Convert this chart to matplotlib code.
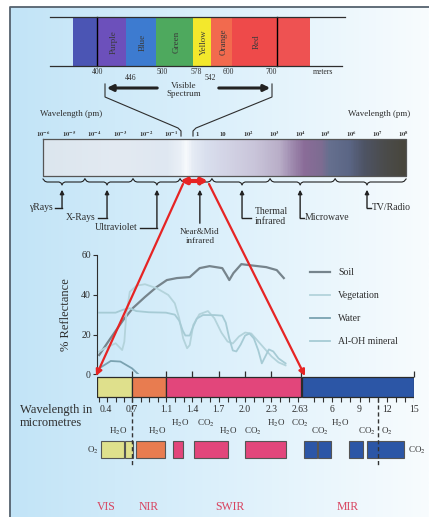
import numpy as np
import matplotlib
matplotlib.use("Agg")
from matplotlib import pyplot as plt
from matplotlib.colors import LinearSegmentedColormap

plt.rcParams["font.family"] = ["Liberation Serif", "DejaVu Serif"]
plt.rcParams["mathtext.fontset"] = "stix"

# ---- visible strip (nm)
STRIP_EDGES_NM = [380, 400, 446, 500, 578, 592, 620, 700, 750]
STRIP_NAMES = ["", "Purple", "Blue", "Green", "Yellow", "Orange", "Red", ""]
STRIP_COLORS = ["#4b55b4", "#6c50bb", "#3d7bd0", "#4ea95e", "#f3e82c", "#f26a4e", "#ee4a4a", "#ee5252"]
VIS_TICK_TEXT = ["400", "446", "500", "578", "542", "600", "700", "meters"]

# ---- EM spectrum bar (log10 of wavelength in pm)
EM_EXPONENTS = list(range(-6, 9))
EM_BANDS = ["γRays", "X-Rays", "Ultraviolet", "Near&Mid\ninfrared", "Thermal\ninfrared", "Microwave", "TV/Radio"]
EM_BAND_AT = [-5.26, -3.51, -1.57, 0.1, 1.74, 4.0, 6.6]
EM_BRACE_EDGES = [-6.0, -4.37, -2.5, -0.67, 0.57, 2.83, 5.36, 8.12]

# ---- reflectance curves (micrometres, %)
SOIL_UM = [0.40, 0.506, 0.62, 0.71, 0.853, 0.99, 1.11, 1.224, 1.37, 1.483, 1.596, 1.74, 1.788,
           1.82, 1.867, 1.957, 2.047, 2.24, 2.36, 2.44]
SOIL_PCT = [9.7, 18.3, 27.3, 33.3, 38.9, 43.9, 47.4, 48.4, 48.9, 53.4, 54.4, 53.4, 49.9,
            47.4, 50.9, 55.4, 54.9, 53.9, 52.4, 48.4]
VEG_UM = [0.40, 0.447, 0.55, 0.61, 0.63, 0.647, 0.68, 0.755, 0.853, 0.99, 1.126, 1.20, 1.25,
          1.295, 1.34, 1.37, 1.41, 1.48, 1.577, 1.65, 1.73, 1.80, 1.86, 1.93, 2.0, 2.07, 2.14,
          2.22, 2.30, 2.38, 2.46]
VEG_PCT = [11.4, 13, 15.6, 12.2, 16.4, 29.8, 41.5, 44.6, 45.3, 43.3, 39.9, 35.7, 28.2,
           18.1, 13.1, 14.7, 24.8, 30.2, 31.8, 28.2, 21, 16.5, 15.5, 19, 21, 20.5, 17,
           13, 9, 6, 4.5]
WATER_UM = [0.40, 0.506, 0.594, 0.70, 0.775]
WATER_PCT = [3, 6.7, 6.4, 3, 0]
ALOH_UM = [0.40, 0.55, 0.62, 0.68, 0.75, 0.9, 1.1, 1.2, 1.25, 1.29, 1.32, 1.37, 1.40, 1.45,
           1.52, 1.65, 1.74, 1.78, 1.82, 1.86, 1.9, 1.95, 2.0, 2.05, 2.1, 2.15, 2.19, 2.23,
           2.27, 2.32, 2.38, 2.46]
ALOH_PCT = [31, 31, 32.5, 33.2, 31.8, 31.2, 31, 30, 27, 22, 19.5, 19.5, 23, 28,
            29.8, 29.8, 29.5, 26, 18, 12, 11.5, 15, 19.5, 20.5, 18, 12, 5.5, 9,
            12.5, 11.5, 8, 5.5]

# ---- band bar, windows, gases (micrometres)
BAND_NAMES = ["VIS", "NIR", "SWIR", "MIR"]
BAND_START = [0.38, 0.7, 1.1, 2.75]
BAND_END = [0.7, 1.1, 2.63, 15.0]
BAND_COLORS = ["#dfe08c", "#e87c50", "#e2467b", "#2c56a6"]
AXIS_LABELS = ["0.4", "0.7", "1.1", "1.4", "1.7", "2.0", "2.3", "2.63", "6", "9", "12", "15"]
AXIS_UM = [0.4, 0.7, 1.1, 1.4, 1.7, 2.0, 2.3, 2.63, 6, 9, 12, 15]
TOP_TICKS_UM = [0.7, 1.1, 1.4, 1.7, 2.0, 2.3, 2.63, 15]
WIN_START = [0.417, 0.636, 0.747, 1.18, 1.42, 2.0, 2.9, 4.43, 7.84, 9.83]
WIN_END = [0.627, 0.712, 1.088, 1.294, 1.81, 2.47, 4.32, 5.86, 9.39, 13.9]
WIN_BAND = [0, 0, 1, 2, 2, 2, 3, 3, 3, 3]
GAS_NAMES = ["H2O", "H2O", "H2O", "CO2", "H2O", "CO2", "H2O", "CO2", "CO2", "H2O", "CO2", "O2"]
GAS_UM = [0.572, 0.994, 1.261, 1.549, 1.802, 2.089, 2.354, 2.62, 4.65, 6.85, 9.83, 12.03]
GAS_ROW = [1, 1, 0, 0, 1, 1, 0, 0, 1, 0, 1, 1]
DASHED_UM = [0.7, 11]

W, H = 429, 517
INK = "#2e2e2e"

# piecewise wavelength scale used by the lower part
UM_BRK = [0.38, 0.7, 1.1, 2.63, 3.0, 15.0]
PX_BRK = [97, 132, 166, 300.5, 305, 414]


def fwd(v):
    return np.interp(v, UM_BRK, PX_BRK)


def inv(p):
    return np.interp(p, PX_BRK, UM_BRK)


def nm_px(v):
    return np.interp(v, STRIP_EDGES_NM, [73, 97, 126, 156, 193, 211, 232, 277, 310])


def em_px(e):
    return 43 + (e + 6) * 360 / 14


fig = plt.figure(figsize=(W / 100, H / 100), dpi=100)


def px_axes(x0, y0, x1, y1):
    a = fig.add_axes([x0 / W, 1 - y1 / H, (x1 - x0) / W, (y1 - y0) / H])
    a.patch.set_alpha(0)
    return a


bg = px_axes(0, 0, W, H)
bg.set_xlim(0, W)
bg.set_ylim(H, 0)
bg.axis("off")

grad = LinearSegmentedColormap.from_list("bgg", ["#c2e4f7", "#dcf0fb", "#f8fcfe"])
bg.imshow(np.linspace(0, 1, 256).reshape(1, -1), cmap=grad, aspect="auto",
          extent=[10, W, H, 7], zorder=0)
bg.plot([10, 10, W], [H, 7, 7], color="#55626e", lw=1.3, zorder=1)

# visible strip
for i in range(len(STRIP_NAMES)):
    x0, x1 = nm_px(STRIP_EDGES_NM[i]), nm_px(STRIP_EDGES_NM[i + 1])
    bg.fill_between([x0, x1], 17, 66, color=STRIP_COLORS[i], lw=0, zorder=2)
    if STRIP_NAMES[i]:
        bg.text((x0 + x1) / 2 + 2, 42, STRIP_NAMES[i], rotation=90, ha="center", va="center",
                fontsize=6.5, color="#3a3a3a", zorder=3)
for nm in [400, 700]:
    bg.plot([nm_px(nm)] * 2, [17, 66], color="k", lw=1, zorder=3)
bg.plot([50, 345], [17, 17], color=INK, lw=0.9, zorder=3)
bg.plot([50, 342], [66, 66], color=INK, lw=0.9, zorder=3)
vis_x = [98, 131, 162, 196, 210, 228, 271, 313]
vis_y = [72, 78, 72, 72, 78, 72, 72, 72]
for t, x, y in zip(VIS_TICK_TEXT, vis_x, vis_y):
    bg.text(x, y, t, ha="left" if t == "meters" else "center", va="center", fontsize=5.5, color=INK)

bg.annotate("", xy=(104, 88), xytext=(160, 88),
            arrowprops=dict(arrowstyle="-|>", lw=2.2, color="#222", mutation_scale=9))
bg.annotate("", xy=(273, 88), xytext=(216, 88),
            arrowprops=dict(arrowstyle="-|>", lw=2.2, color="#222", mutation_scale=9))
bg.text(184, 86, "Visible", ha="center", va="center", fontsize=6.5, color=INK)
bg.text(184, 94, "Spectrum", ha="center", va="center", fontsize=6.5, color=INK)
bg.plot([105, 105, 178, 181, 181], [84, 97, 128, 131, 136], color=INK, lw=0.8)
bg.plot([272, 272, 196, 193, 193], [84, 97, 128, 131, 136], color=INK, lw=0.8)

bg.text(40, 114, "Wavelength (pm)", ha="left", va="center", fontsize=6.5, color=INK)
bg.text(410, 114, "Wavelength (pm)", ha="right", va="center", fontsize=6.5, color=INK)

# EM spectrum bar
em_cmap = LinearSegmentedColormap.from_list("em", [
    (0.0, "#dce6ee"), (0.21, "#e3eaf2"), (0.34, "#dfe7f1"), (0.378, "#eaf0f7"),
    (0.395, "#f8fbfd"), (0.41, "#e6ecf5"), (0.45, "#d9dfee"), (0.515, "#d2d2e4"),
    (0.584, "#c9c5da"), (0.653, "#b9aec8"), (0.686, "#a08cb0"), (0.722, "#8a6c98"),
    (0.768, "#7e6c92"), (0.79, "#66708f"), (0.846, "#5b6685"), (0.887, "#4e5465"),
    (0.942, "#4b4c4c"), (1.0, "#48463c")])
bg.imshow(np.linspace(0, 1, 400).reshape(1, -1), cmap=em_cmap, aspect="auto",
          extent=[43, 406, 176, 139], zorder=2)
bg.plot([43, 406, 406, 43, 43], [139, 139, 176, 176, 139], color="#555", lw=0.9, zorder=3)
for e in EM_EXPONENTS:
    lab = "1" if e == 0 else ("10" if e == 1 else r"$\mathbf{10^{%d}}$" % e)
    bg.text(em_px(e), 134, lab, ha="center", va="center", fontsize=4.8, fontweight="bold",
            color=INK)

# braces + arrows to band names
label_y = [208, 218, 228, 0, 218, 218, 208]
for i, name in enumerate(EM_BANDS):
    a, b = em_px(EM_BRACE_EDGES[i]), em_px(EM_BRACE_EDGES[i + 1])
    t = em_px(EM_BAND_AT[i])
    bg.plot([a, a + 2, a + 4, t - 3, t - 1, t, t + 1, t + 3, b - 4, b - 2, b],
            [179, 181.3, 182, 182, 183, 185, 183, 182, 182, 181.3, 179],
            color="#222", lw=0.8, zorder=3)
    if i == 3:
        bg.annotate("", xy=(t, 187), xytext=(t, 226),
                    arrowprops=dict(arrowstyle="-|>", lw=1, color="#222", mutation_scale=6))
        bg.text(t, 232, "Near&Mid", ha="center", va="center", fontsize=6.5, color=INK)
        bg.text(t, 241, "infrared", ha="center", va="center", fontsize=6.5, color=INK)
        continue
    y = label_y[i]
    bg.annotate("", xy=(t, 187), xytext=(t, y),
                arrowprops=dict(arrowstyle="-|>", lw=1, color="#222", mutation_scale=6,
                                shrinkA=0))
    if i < 3:
        x_end = {0: 55, 1: 98, 2: 140}[i]
        bg.plot([t, x_end], [y, y], color="#222", lw=1)
        bg.text(x_end - 2, y - 1, name, ha="right", va="center", fontsize=7, color=INK)
    elif i == 4:
        bg.plot([t, 251], [y, y], color="#222", lw=1)
        bg.text(255, 212, "Thermal", ha="left", va="center", fontsize=7, color=INK)
        bg.text(255, 222, "infrared", ha="left", va="center", fontsize=7, color=INK)
    else:
        bg.plot([t, t + 4], [y, y], color="#222", lw=1)
        bg.text(t + 5, y - 1, name, ha="left", va="center", fontsize=7, color=INK)

bg.text(20, 410, "Wavelength in", ha="left", va="center", fontsize=9, color=INK)
bg.text(20, 423, "micrometres", ha="left", va="center", fontsize=9, color=INK)
bg.text(93, 450, r"O$_2$", ha="center", va="center", fontsize=6.5, color=INK)
bg.text(417, 450, r"CO$_2$", ha="center", va="center", fontsize=6.5, color=INK)

# reflectance chart
ax = px_axes(97, 255, 414, 374.3)
ax.set_xscale("function", functions=(fwd, inv))
ax.set_xlim(0.38, 15)
ax.set_ylim(0, 60)
ax.plot(SOIL_UM, SOIL_PCT, color="#76848c", lw=1.6, label="Soil")
ax.plot(VEG_UM, VEG_PCT, color="#b3d3db", lw=1.3, label="Vegetation")
ax.plot(WATER_UM, WATER_PCT, color="#7aa2b1", lw=1.3, label="Water")
ax.plot(ALOH_UM, ALOH_PCT, color="#a6cbd5", lw=1.3, label="Al-OH mineral")
for s in ["top", "right", "bottom"]:
    ax.spines[s].set_visible(False)
ax.spines["left"].set_color(INK)
ax.spines["left"].set_linewidth(0.8)
ax.set_xticks([])
ax.set_yticks([0, 20, 40, 60])
ax.tick_params(axis="y", length=3, width=0.8, labelsize=7, pad=1.5, colors=INK)
ax.set_ylabel("% Reflectance", fontsize=9, color=INK)
ax.yaxis.set_label_coords(-0.079, 0.5)
leg = ax.legend(loc="upper left", bbox_to_anchor=(0.672, 0.891), frameon=False, fontsize=7,
                handlelength=2.1, labelspacing=1.45, handletextpad=0.8, borderaxespad=0,
                borderpad=0)
for t in leg.get_texts():
    t.set_color(INK)

# band bar and windows
low = px_axes(97, 374.3, 414, 517)
low.set_xscale("function", functions=(fwd, inv))
low.set_xlim(0.38, 15)
low.set_ylim(517, 374.3)
low.axis("off")
low.barh(387, np.subtract(BAND_END, BAND_START), left=BAND_START, height=20,
         color=BAND_COLORS, edgecolor="#2b2b2b", lw=0.9)
low.vlines(TOP_TICKS_UM, 371, 377, color=INK, lw=0.9, clip_on=False)
minor = list(np.linspace(0.4, 0.7, 5)) + list(np.arange(0.8, 2.65, 0.1)) + list(np.arange(4, 16, 1))
low.vlines(minor, 397, 402, color=INK, lw=0.8)
for lab, um in zip(AXIS_LABELS, AXIS_UM):
    low.text(um, 410, lab, ha="left" if lab == "0.4" else "center", va="center",
             fontsize=7, color=INK)
low.vlines(DASHED_UM, 398, 466, color="#333", lw=1, linestyles=(0, (3, 2)), zorder=4)
for name, um, row in zip(GAS_NAMES, GAS_UM, GAS_ROW):
    low.text(um, 423 if row == 0 else 431, name.replace("2", "$_2$"), ha="center",
             va="center", fontsize=6.5, color=INK)
low.barh(449.5, np.subtract(WIN_END, WIN_START), left=WIN_START, height=17,
         color=[BAND_COLORS[b] for b in WIN_BAND], edgecolor="#555", lw=0.8)
band_label_um = [0.46, 0.9, 1.83, 7.7]
for name, um in zip(BAND_NAMES, band_label_um):
    low.text(um, 507, name, ha="center", va="center", fontsize=8.5, color="#d8435f")

# red connectors on top
top = px_axes(0, 0, W, H)
top.set_xlim(0, W)
top.set_ylim(H, 0)
top.axis("off")
top.annotate("", xy=(177, 181), xytext=(211, 181),
             arrowprops=dict(arrowstyle="<|-|>", lw=3, color="#e62424", mutation_scale=8))
top.annotate("", xy=(96, 376), xytext=(183, 184),
             arrowprops=dict(arrowstyle="-|>", lw=1.6, color="#e62424", mutation_scale=9,
                             shrinkA=0, shrinkB=0))
top.annotate("", xy=(305, 376), xytext=(209, 184),
             arrowprops=dict(arrowstyle="-|>", lw=1.6, color="#e62424", mutation_scale=9,
                             shrinkA=0, shrinkB=0))

plt.savefig("out.png", dpi=100)
